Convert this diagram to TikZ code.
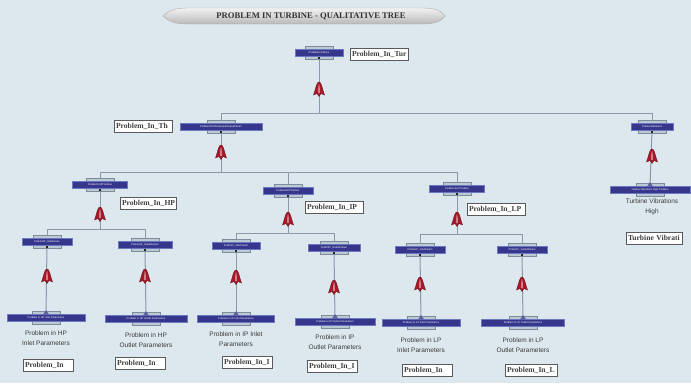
\documentclass[tikz,border=0pt]{standalone}
\usepackage{fontspec}
\setmainfont{Liberation Serif}
\newfontfamily\sansf{Liberation Sans}
\definecolor{bgc}{HTML}{DCE8EE}
\definecolor{navy}{HTML}{36368C}
\definecolor{barline}{HTML}{6C78C0}
\definecolor{tabc}{HTML}{BCC8D2}
\definecolor{tabline}{HTML}{7D8C9A}
\definecolor{linec}{HTML}{8A98A8}
\definecolor{ared}{HTML}{A81828}
\definecolor{adark}{HTML}{5A0A14}
\definecolor{txt}{HTML}{3A3A3A}
\pgfdeclarelayer{background}
\pgfsetlayers{background,main}
\tikzset{
  barst/.style={fill=navy, draw=barline, line width=0.5pt, inner sep=0pt,
    minimum height=7pt, text=white, font=\sansf\fontsize{2.6}{3}\selectfont},
  tabst/.style={fill=tabc, draw=tabline, line width=0.4pt},
  conn/.style={draw=linec, line width=1pt},
  lbl/.style={draw=gray!70!black, line width=0.9pt, fill=white,
    inner xsep=2pt, inner ysep=0pt, minimum height=12pt, text width=#1, align=left,
    font=\fontsize{7.6}{8}\selectfont\bfseries, text=black!75,
    append after command={\pgfextra{\draw[gray!45, line width=0.4pt]
      ([shift={(1.3,1.3)}]\tikzlastnode.north west) rectangle ([shift={(-1.3,-1.3)}]\tikzlastnode.south east);}}},
  leaftxt/.style={align=center, font=\sansf\fontsize{6.5}{10}\selectfont, text=txt},
  redarrow/.pic={
    \fill[ared, draw=adark, line width=0.3pt] (0,-8) .. controls (2.4,-8) and (2.8,-3) .. (5.5,5)
      -- (2,3.5) -- (0,6.5) -- (-2,3.5) -- (-5.5,5) .. controls (-2.8,-3) and (-2.4,-8) .. (0,-8) -- cycle;
    \fill[ared!55!white] (0,-6) .. controls (0.8,-4) and (1,0) .. (1,3) -- (-1,3) .. controls (-1,0) and (-0.8,-4) .. (0,-6);
  }
}
% name, x, y, width, text
\newcommand\tbar[5]{%
  \fill[tabst] ({#2-14},{#3-6.5}) rectangle ({#2+14},{#3+6.5});
  \node[barst, minimum width=#4pt] (#1) at (#2,#3) {#5};
  \fill[black!85] ({#2-1.2},{#3+3.5}) rectangle ({#2+1.2},{#3+6});
}
\newcommand\lbar[5]{%
  \fill[tabst] ({#2-14},{#3-6.5}) rectangle ({#2+14},{#3+6.5});
  \node[barst, minimum width=#4pt] (#1) at (#2,#3) {#5};
  \fill[navy!80] ({#2-3},{#3-3.5}) -- ({#2+3},{#3-3.5}) -- (#2,{#3-8}) -- cycle;
}
\begin{document}
\begin{tikzpicture}[x=1pt,y=-1pt]
\useasboundingbox (0,0) rectangle (691,383);
\begin{pgfonlayer}{background}
  \fill[bgc] (0,0) rectangle (691,383);
\end{pgfonlayer}

% title banner
\shade[top color=gray!10, bottom color=gray!55, draw=gray!65]
  (163,16) .. controls (170,9) and (178,8) .. (190,8) -- (420,8)
  .. controls (432,8) and (440,9) .. (445,16)
  .. controls (440,23) and (432,24) .. (420,24) -- (190,24)
  .. controls (178,24) and (170,23) .. (163,16) -- cycle;
\node[font=\fontsize{8.6}{9}\selectfont\bfseries, text=black!80] (title) at (311,16) {PROBLEM IN TURBINE - QUALITATIVE TREE};

% bars
\tbar{root}{319}{53}{48}{ProblemInTurbine}
\tbar{th}{221}{127}{82}{ProblemInTurbineInputOutputParam}
\tbar{vib}{652}{127}{42}{TurbineVibrations}
\lbar{vibl}{650}{190}{80}{Turbine Vibrations High Problem}
\tbar{hp}{100}{185}{55}{ProblemInHPTurbine}
\tbar{ip}{288}{191}{50}{ProblemInIPTurbine}
\tbar{lp}{457}{189}{55}{ProblemInLPTurbine}
\tbar{hpi}{47}{242}{50}{ProbInHP\_InletParam}
\tbar{hpo}{145}{245}{54}{ProbInHP\_OutletParam}
\tbar{ipi}{236}{246}{48}{ProbInIP\_InletParam}
\tbar{ipo}{334}{248}{52}{ProbInIP\_OutletParam}
\tbar{lpi}{420}{250}{50}{ProbInLP\_InletParam}
\tbar{lpo}{522}{250}{50}{ProbInLP\_OutletParam}
\lbar{hpil}{46}{318}{78}{Problem in HP Inlet Parameters}
\lbar{hpol}{146}{319}{82}{Problem in HP Outlet Parameters}
\lbar{ipil}{236}{319}{77}{Problem in IP Inlet Parameters}
\lbar{ipol}{335}{322}{80}{Problem in IP Outlet Parameters}
\lbar{lpil}{421}{323}{78}{Problem in LP Inlet Parameters}
\lbar{lpol}{523}{323}{83}{Problem in LP Outlet Parameters}

% junctions
\coordinate (jroot) at (319,113);
\coordinate (jth) at (221,172);
\coordinate (jhp) at (100,229);
\coordinate (jip) at (288,233);
\coordinate (jlp) at (457,234);

\begin{pgfonlayer}{background}
  \draw[conn] (root.south) -- (jroot);
  \draw[conn] (jroot) -| (th.north);
  \draw[conn] (jroot) -| (vib.north);
  \draw[conn] (th.south) -- (jth);
  \draw[conn] (jth) -| (hp.north);
  \draw[conn] (jth) -| (ip.north);
  \draw[conn] (jth) -| (lp.north);
  \draw[conn] (hp.south) -- (jhp);
  \draw[conn] (jhp) -| (hpi.north);
  \draw[conn] (jhp) -| (hpo.north);
  \draw[conn] (ip.south) -- (jip);
  \draw[conn] (jip) -| (ipi.north);
  \draw[conn] (jip) -| (ipo.north);
  \draw[conn] (lp.south) -- (jlp);
  \draw[conn] (jlp) -| (lpi.north);
  \draw[conn] (jlp) -| (lpo.north);
  \draw[conn] (vib.south) -- (vibl.north);
  \draw[conn] (hpi.south) -- (hpil.north);
  \draw[conn] (hpo.south) -- (hpol.north);
  \draw[conn] (ipi.south) -- (ipil.north);
  \draw[conn] (ipo.south) -- (ipol.north);
  \draw[conn] (lpi.south) -- (lpil.north);
  \draw[conn] (lpo.south) -- (lpol.north);
\end{pgfonlayer}

% arrows
\pic at (319,90) {redarrow};
\pic at (221,153) {redarrow};
\pic at (652,157) {redarrow};
\pic at (100,215) {redarrow};
\pic at (288,220) {redarrow};
\pic at (457,220) {redarrow};
\pic at (47,277) {redarrow};
\pic at (145,277) {redarrow};
\pic at (236,278) {redarrow};
\pic at (334,288) {redarrow};
\pic at (420,285) {redarrow};
\pic at (522,285) {redarrow};

% leaf texts
\node[leaftxt] (thpil) at (46,338) {Problem in HP\\Inlet Parameters};
\node[leaftxt] (thpol) at (146,340) {Problem in HP\\Outlet Parameters};
\node[leaftxt] (tipil) at (236,339) {Problem in IP Inlet\\Parameters};
\node[leaftxt] (tipol) at (335,342) {Problem in IP\\Outlet Parameters};
\node[leaftxt] (tlpil) at (421,345) {Problem in LP\\Inlet Parameters};
\node[leaftxt] (tlpol) at (523,345) {Problem in LP\\Outlet Parameters};
\node[leaftxt] (tvibl) at (652,207) {Turbine Vibrations\\High};

% label boxes
\node[lbl=54pt] (ltur) at (379,54) {Problem\_In\_Tur};
\node[lbl=54pt] (lth) at (143,126) {Problem\_In\_Th};
\node[lbl=52pt] (lhp) at (148,203) {Problem\_In\_HP};
\node[lbl=54pt] (lip) at (334,207) {Problem\_In\_IP};
\node[lbl=54pt] (llp) at (496,209) {Problem\_In\_LP};
\node[lbl=52pt] (lvib) at (654,238) {Turbine Vibrati};
\node[lbl=46pt] (lhpi) at (48,365) {Problem\_In};
\node[lbl=46pt] (lhpo) at (140,363) {Problem\_In};
\node[lbl=46pt] (lipi) at (247,362) {Problem\_In\_I};
\node[lbl=46pt] (lipo) at (332,366) {Problem\_In\_I};
\node[lbl=46pt] (llpi) at (427,370) {Problem\_In};
\node[lbl=48pt] (llpo) at (531,370) {Problem\_In\_L};
\end{tikzpicture}
\end{document}
